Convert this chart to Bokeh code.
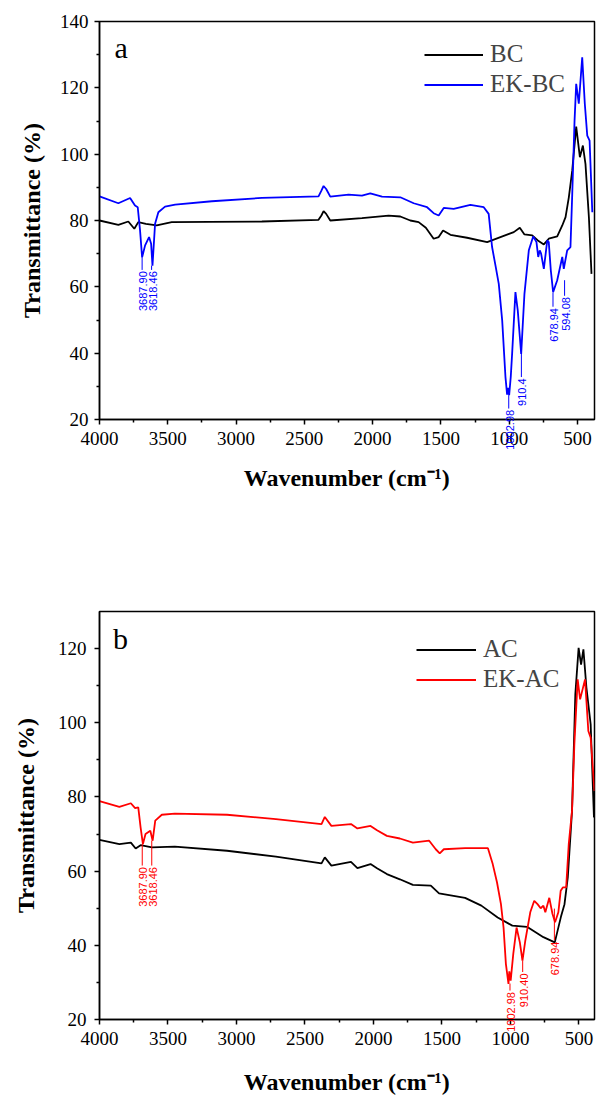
import numpy as np
from bokeh.plotting import figure
from bokeh.models import Range1d, FixedTicker, Legend, LegendItem, Label
from bokeh.layouts import column
from bokeh.embed import file_html
from bokeh.resources import INLINE

# ---------------- data ----------------
# Panel a
bc_wn = [4000, 3862, 3789, 3745, 3716, 3660, 3581, 3471, 3200, 2811, 2396, 2375, 2359, 2340, 2310,
         2078, 1883, 1797, 1724, 1663, 1610, 1553, 1516, 1484, 1430, 1308, 1161, 1064, 966, 922,
         888, 831, 790, 746, 710, 648, 611, 587, 563, 538, 509, 482, 460, 441, 416, 397]
bc_t = [80.0, 78.7, 79.7, 77.5, 79.5, 79.0, 78.5, 79.5, 79.6, 79.7, 80.2, 81.5, 82.8, 82.0, 80.0,
        80.7, 81.5, 81.2, 80.0, 79.5, 77.8, 74.5, 75.0, 77.0, 75.7, 74.8, 73.5, 75.0, 76.5, 77.8,
        75.8, 75.5, 74.0, 72.8, 74.5, 75.2, 78.5, 81.0, 87.0, 95.1, 108.3, 99.1, 102.6, 97.0, 81.0, 63.9]

ekbc_wn = [4000, 3862, 3776, 3740, 3720, 3703, 3688, 3666, 3637, 3622, 3612, 3593, 3569, 3520, 3446,
           3177, 2811, 2396, 2375, 2359, 2340, 2310, 2176, 2078, 2017, 1931, 1797, 1699, 1601, 1553,
           1516, 1479, 1406, 1284, 1186, 1150, 1125, 1100, 1076, 1051, 1027, 1015, 1008, 1000, 988,
           978, 954, 937, 912, 888, 856, 824, 800, 787, 776, 766, 746, 721, 710, 695, 678, 648, 611,
           600, 575, 551, 538, 521, 509, 490, 465, 446, 428, 411, 391]
ekbc_t = [87.3, 85.2, 86.8, 84.5, 84.0, 77.0, 68.9, 72.5, 75.0, 73.0, 66.4, 79.0, 82.5, 84.2, 84.8,
          85.8, 86.8, 87.3, 89.0, 90.4, 89.5, 87.2, 87.8, 87.5, 88.2, 87.2, 87.0, 85.2, 84.0, 82.2,
          81.5, 83.8, 83.5, 84.7, 84.0, 82.0, 72.0, 66.4, 60.9, 49.9, 32.8, 27.5, 29.5, 27.3, 33.0,
          40.0, 58.4, 52.9, 39.8, 57.9, 71.0, 75.2, 73.5, 69.0, 71.0, 70.0, 65.4, 74.0, 73.5, 65.0, 58.4, 62.0, 69.0,
          65.4, 71.0, 72.0, 88.0, 110.2, 121.2, 115.2, 129.2, 115.2, 105.6, 104.1, 82.5]

# Panel b
ac_wn = [4000, 3855, 3771, 3736, 3700, 3617, 3450, 3069, 2712, 2379, 2355, 2307, 2164, 2117, 2021,
         1974, 1902, 1807, 1712, 1581, 1521, 1331, 1212, 1093, 986, 879, 759, 676, 629, 605, 581,
         550, 526, 502, 484, 467, 445, 414, 390]
ac_t = [68.4, 67.3, 67.7, 66.1, 67.0, 66.4, 66.6, 65.5, 63.9, 62.1, 63.7, 61.5, 62.5, 60.8, 61.9,
        60.8, 59.2, 57.8, 56.3, 56.1, 54.0, 52.8, 50.7, 47.5, 45.3, 45.0, 42.2, 40.8, 48.0, 51.1, 58.3,
        76.3, 107.7, 120.2, 115.7, 119.8, 109.5, 99.6, 74.5]

ekac_wn = [4000, 3855, 3771, 3740, 3717, 3700, 3683, 3664, 3629, 3612, 3593, 3545, 3450, 3069, 2712,
           2379, 2355, 2307, 2164, 2117, 2021, 1974, 1902, 1807, 1712, 1593, 1545, 1516, 1486, 1331,
           1164, 1129, 1098, 1069, 1050, 1033, 1014, 1008, 998, 979, 955, 931, 912, 891, 855, 826,
           802, 779, 759, 745, 716, 693, 674, 650, 633, 617, 593, 574, 550, 533, 509, 491, 455, 431,
           414, 386]
ekac_t = [78.9, 77.3, 78.3, 77.0, 77.2, 71.8, 67.3, 70.0, 70.9, 68.2, 73.6, 75.2, 75.5, 75.2, 74.0,
          72.7, 74.6, 72.2, 72.7, 71.5, 72.2, 71.0, 69.5, 68.8, 67.7, 68.2, 65.9, 64.8, 65.9, 66.2,
          66.2, 61.9, 57.0, 51.1, 44.8, 35.0, 29.6, 33.0, 30.5, 37.7, 44.8, 40.8, 35.9, 41.3, 48.9, 52.0,
          51.1, 50.0, 50.7, 48.9, 52.8, 48.5, 46.2, 48.9, 54.7, 55.6, 55.6, 67.3, 76.3, 94.2, 111.7, 106.3, 111.7, 97.8,
          96.0, 81.6]

# peak annotations
a_peak_wn = [3687.90, 3618.46, 1002.98, 910.4, 678.94, 594.08]
a_peak_txt = ["3687.90", "3618.46", "1002.98", "910.4", "678.94", "594.08"]
a_peak_from = [68.9, 66.4, 27.3, 39.8, 58.3, 62.0]
a_peak_to = [65.1, 65.1, 23.3, 32.8, 54.0, 57.3]

b_peak_wn = [3687.90, 3618.46, 1002.98, 910.40, 678.94]
b_peak_txt = ["3687.90", "3618.46", "1002.98", "910.40", "678.94"]
b_peak_from = [67.3, 68.2, 29.7, 35.9, 49.9]
b_peak_to = [61.5, 61.5, 27.8, 32.8, 41.4]

x_major = [4000, 3500, 3000, 2500, 2000, 1500, 1000, 500]
x_minor = [3750, 3250, 2750, 2250, 1750, 1250, 750]

SERIF = "Liberation Serif"
SANS = "Liberation Sans"


def make_panel(width, height, xr, yr, yticks, yminor, borders, xlab_standoff, ylab_standoff, ytick_standoff):
    l, r, t, b = borders
    p = figure(width=width, height=height, x_range=Range1d(*xr), y_range=Range1d(*yr),
               output_backend="svg", toolbar_location=None,
               min_border_left=l, min_border_right=r, min_border_top=t, min_border_bottom=b)
    p.xgrid.visible = False
    p.ygrid.visible = False
    p.outline_line_color = "black"
    p.outline_line_width = 1.5
    p.background_fill_color = "white"
    p.border_fill_color = "white"
    p.xaxis.ticker = FixedTicker(ticks=x_major, minor_ticks=x_minor)
    p.yaxis.ticker = FixedTicker(ticks=yticks, minor_ticks=yminor)
    for ax in (p.xaxis[0], p.yaxis[0]):
        ax.axis_line_width = 1.5
        ax.axis_line_color = "black"
        ax.major_tick_line_width = 1.5
        ax.minor_tick_line_width = 1.5
        ax.major_tick_out = 5
        ax.major_tick_in = 0
        ax.minor_tick_out = 3
        ax.minor_tick_in = 0
        ax.major_label_text_font = SERIF
        ax.major_label_text_font_size = "19px"
        ax.major_label_text_color = "black"
        ax.axis_label_text_font = SERIF
        ax.axis_label_text_font_size = "24px"
        ax.axis_label_text_font_style = "bold"
        ax.axis_label_text_color = "black"
    p.xaxis.major_label_standoff = 7
    p.yaxis.major_label_standoff = ytick_standoff
    p.xaxis.axis_label = "Wavenumber (cm\u207b\u00b9)"
    p.yaxis.axis_label = "Transmittance (%)"
    p.xaxis.axis_label_standoff = xlab_standoff
    p.yaxis.axis_label_standoff = ylab_standoff
    return p


def add_peaks(p, wn, txt, y_from, y_to, color, spill_side):
    p.segment(x0=wn, y0=y_from, x1=wn, y1=y_to, line_color=color, line_width=1)
    for xv, yv, tv in zip(wn, y_to, txt):
        lab = Label(x=xv, y=yv - 0.4, text=tv, angle=np.pi / 2,
                    text_align="right", text_baseline="middle", x_offset=1,
                    text_font=SANS, text_font_size="11px", text_color=color)
        # a label that runs past the bottom of the frame is hosted in a side panel
        # (side-panel annotations are not clipped); its place still comes from x, y
        if yv < 30:
            p.add_layout(lab, spill_side)
        else:
            p.add_layout(lab)


# ---------------- panel a ----------------
p1 = make_panel(599, 560, (4000, 375), (20, 140), [20, 40, 60, 80, 100, 120, 140],
                [30, 50, 70, 90, 110, 130], (99, 5, 21, 141), 17, 12, 6)
r_bc = p1.line(bc_wn, bc_t, line_color="black", line_width=1.8)
r_ekbc = p1.line(ekbc_wn, ekbc_t, line_color="#0000ff", line_width=1.8)
add_peaks(p1, a_peak_wn, a_peak_txt, a_peak_from, a_peak_to, "#0000ff", "below")
leg1 = Legend(items=[LegendItem(label="BC", renderers=[r_bc]),
                     LegendItem(label="EK-BC", renderers=[r_ekbc])],
              location=(325, 321), glyph_width=59, glyph_height=25, label_height=25,
              label_standoff=7, spacing=2, padding=0, margin=0,
              border_line_alpha=0, background_fill_alpha=0,
              label_text_font=SERIF, label_text_font_size="25px")
p1.add_layout(leg1)
p1.add_layout(Label(x=3891, y=132.1, text="a", text_font=SERIF, text_font_size="30px",
                    text_baseline="alphabetic", text_color="black"))

# ---------------- panel b ----------------
p2 = make_panel(599, 540, (4000, 386), (20, 130), [20, 40, 60, 80, 100, 120],
                [30, 50, 70, 90, 110], (93, 0, 51, 81), 21, 16, 8)
r_ac = p2.line(ac_wn, ac_t, line_color="black", line_width=1.8)
r_ekac = p2.line(ekac_wn, ekac_t, line_color="#ff0000", line_width=1.8)
add_peaks(p2, b_peak_wn, b_peak_txt, b_peak_from, b_peak_to, "#ff0000", "above")
leg2 = Legend(items=[LegendItem(label="AC", renderers=[r_ac]),
                     LegendItem(label="EK-AC", renderers=[r_ekac])],
              location=(317, 326), glyph_width=60, glyph_height=25, label_height=25,
              label_standoff=7, spacing=2, padding=0, margin=0,
              border_line_alpha=0, background_fill_alpha=0,
              label_text_font=SERIF, label_text_font_size="25px")
p2.add_layout(leg2)
p2.add_layout(Label(x=3902, y=122.6, text="b", text_font=SERIF, text_font_size="30px",
                    text_baseline="alphabetic", text_color="black"))

layout = column(p1, p2, spacing=0)
open("out.html", "w").write(file_html(layout, INLINE))
